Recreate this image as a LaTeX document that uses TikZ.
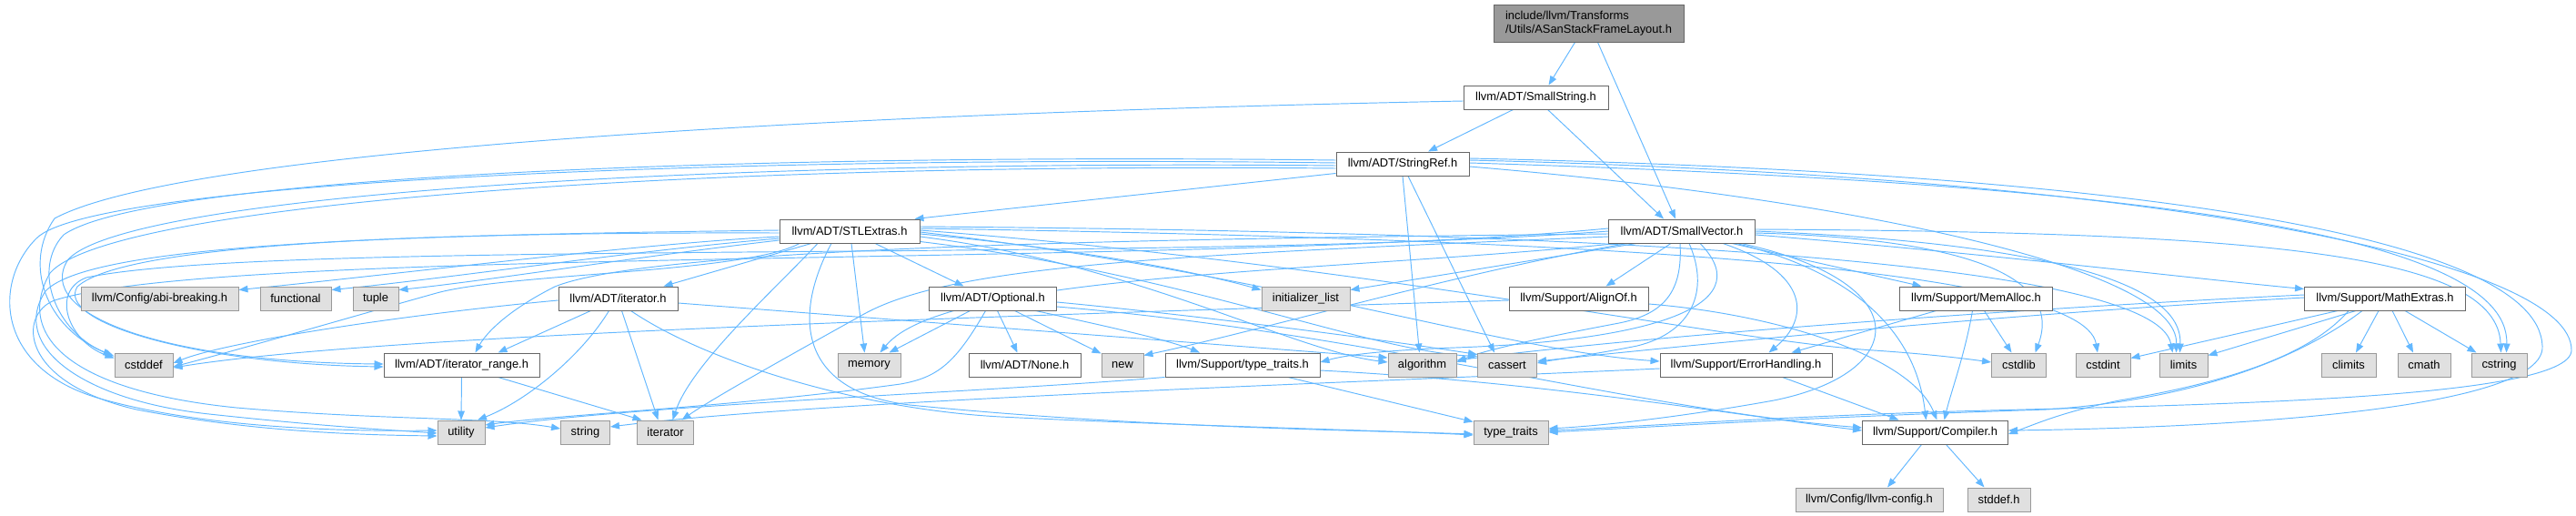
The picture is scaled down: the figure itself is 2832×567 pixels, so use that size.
\documentclass[tikz,border=0pt]{standalone}
\usepackage{fontspec}
\setmainfont{Liberation Sans}
\usetikzlibrary{arrows.meta}
\definecolor{eb}{HTML}{63B8FF}
\definecolor{nb}{HTML}{666666}
\definecolor{gb}{HTML}{999999}
\definecolor{gf}{HTML}{E0E0E0}
\pgfdeclarelayer{bgfill}
\pgfdeclarelayer{bg}
\pgfsetlayers{bgfill,bg,main}
\newcommand\nf{\fontsize{12.9pt}{14.6pt}\selectfont}
\tikzset{
  box/.style={draw=nb, fill=white, line width=0.95pt, minimum height=26pt, inner sep=0pt, font=\nf},
  ext/.style={box, draw=gb, fill=gf},
  hbox/.style={box, fill=gb, draw=nb},
  e/.style={draw=eb, line width=0.95pt, -{Triangle[length=10pt,width=7.5pt]}},
}
\begin{document}
\begin{tikzpicture}[x=1pt,y=-1pt]
\begin{pgfonlayer}{bgfill}
\fill[white] (0,0) rectangle (2832,567);
\end{pgfonlayer}
\useasboundingbox (0,0) rectangle (2832,567);
% nodes
\node[hbox, minimum width=209pt, minimum height=41pt, align=left, inner xsep=10pt] (top) at (1746.5,25.5) {include/llvm/Transforms\\/Utils/ASanStackFrameLayout.h};
\node[box, minimum width=159pt] (sstr) at (1688.5,107) {llvm/ADT/SmallString.h};
\node[box, minimum width=146pt] (sref) at (1542,180) {llvm/ADT/StringRef.h};
\node[box, minimum width=161pt] (svec) at (1849,254) {llvm/ADT/SmallVector.h};
\node[box, minimum width=154pt] (stl) at (934,254) {llvm/ADT/STLExtras.h};
\node[ext, minimum width=173pt] (abi) at (175.5,328) {llvm/Config/abi-breaking.h};
\node[ext, minimum width=78pt] (func) at (325,328) {functional};
\node[ext, minimum width=50pt] (tuple) at (413,328) {tuple};
\node[box, minimum width=131pt] (iter) at (679.5,328) {llvm/ADT/iterator.h};
\node[box, minimum width=140pt] (opt) at (1091.5,328) {llvm/ADT/Optional.h};
\node[ext, minimum width=97pt] (init) at (1435.5,328) {initializer\_list};
\node[box, minimum width=153pt] (align) at (1735.5,328) {llvm/Support/AlignOf.h};
\node[box, minimum width=168pt] (memalloc) at (2172.5,328) {llvm/Support/MemAlloc.h};
\node[box, minimum width=177pt] (math) at (2622,328) {llvm/Support/MathExtras.h};
\node[ext, minimum width=64pt] (cstddef) at (158,401) {cstddef};
\node[box, minimum width=171pt] (irange) at (507.5,401) {llvm/ADT/iterator\_range.h};
\node[ext, minimum width=69pt] (memory) at (955.5,401) {memory};
\node[box, minimum width=123pt] (none) at (1126.5,401) {llvm/ADT/None.h};
\node[ext, minimum width=46pt] (new) at (1234,401) {new};
\node[box, minimum width=170pt] (ltt) at (1366,401) {llvm/Support/type\_traits.h};
\node[ext, minimum width=75pt] (algo) at (1563.5,401) {algorithm};
\node[ext, minimum width=65pt] (cassert) at (1657,401) {cassert};
\node[box, minimum width=189pt] (err) at (1919.5,401) {llvm/Support/ErrorHandling.h};
\node[ext, minimum width=60pt] (cstdlib) at (2219.5,401) {cstdlib};
\node[ext, minimum width=60pt] (cstdint) at (2312,401) {cstdint};
\node[ext, minimum width=53pt] (limits) at (2400.5,401) {limits};
\node[ext, minimum width=60pt] (climits) at (2582,401) {climits};
\node[ext, minimum width=58pt] (cmath) at (2665,401) {cmath};
\node[ext, minimum width=61pt] (cstring) at (2747.5,401) {cstring};
\node[ext, minimum width=52pt] (utility) at (507,475) {utility};
\node[ext, minimum width=54pt] (string) at (643.5,475) {string};
\node[ext, minimum width=62pt] (iterator) at (731.5,475) {iterator};
\node[ext, minimum width=82pt] (tt) at (1661,475) {type\_traits};
\node[box, minimum width=160pt] (comp) at (2127.5,475) {llvm/Support/Compiler.h};
\node[ext, minimum width=162pt] (cfg) at (2055,549) {llvm/Config/llvm-config.h};
\node[ext, minimum width=69pt] (stddef) at (2197.5,549) {stddef.h};
% edges
\begin{pgfonlayer}{bg}
% ASan
\draw[e] ([xshift=-15pt]top.south) -- ([xshift=14pt]sstr.north);
\draw[e] ([xshift=10pt]top.south) -- ([xshift=-7pt]svec.north);
% SmallString
\draw[e] ([xshift=-25pt]sstr.south) -- ([xshift=28pt]sref.north);
\draw[e] ([xshift=13pt]sstr.south) -- ([xshift=-20pt]svec.north);
\draw[e] ([yshift=-4pt]sstr.west) .. controls (900,125) and (200,165) .. (60,240) .. controls (25,290) and (50,360) .. ([xshift=-2pt,yshift=-3pt]cstddef.north west);
% StringRef
\draw[e] ([yshift=3pt]sref.south west) -- ([xshift=-6pt]stl.north east);
\draw[e] (sref.south) -- ([xshift=-3pt]algo.north);
\draw[e] ([xshift=6pt]sref.south) -- ([xshift=-14pt]cassert.north);
\draw[e] ([yshift=4pt]sref.west) .. controls (800,168) and (160,195) .. (70,258) .. controls (35,295) and (60,365) .. ([yshift=-4pt]cstddef.north west);
\draw[e] ([yshift=1pt]sref.west) .. controls (800,170) and (100,200) .. (40,262) .. controls (-8,310) and (-5,405) .. (110,438) .. controls (230,472) and (390,474) .. ([yshift=2pt]utility.west);
\draw[e] ([yshift=-2pt]sref.west) .. controls (760,175) and (140,215) .. (75,285) .. controls (35,345) and (180,398) .. ([yshift=1pt]irange.west);
\draw[e] ([yshift=-5pt]sref.west) .. controls (740,178) and (120,225) .. (55,300) .. controls (15,370) and (80,430) .. (260,448) .. controls (420,462) and (540,458) .. ([yshift=4pt]string.west);
\draw[e] ([yshift=6pt]sref.east) .. controls (2350,190) and (2790,260) .. (2795,380) .. controls (2800,450) and (2450,470) .. ([yshift=2pt]comp.east);
\draw[e] ([yshift=4pt]sref.east) .. controls (2400,195) and (2828,290) .. (2827,385) .. controls (2826,440) and (2400,445) .. (2150,452) .. controls (1950,458) and (1780,470) .. ([yshift=2pt]tt.east);
\draw[e] ([yshift=1pt]sref.east) .. controls (2300,200) and (2760,250) .. ([xshift=8pt]cstring.north);
\draw[e] ([yshift=-3pt]sref.east) .. controls (2000,215) and (2395,290) .. ([xshift=-8pt]limits.north);
% STLExtras
\draw[e] ([yshift=-2pt]stl.west) .. controls (500,255) and (140,265) .. (85,315) .. controls (60,355) and (220,400) .. ([yshift=-2pt]irange.west);
\draw[e] ([yshift=1pt]stl.west) .. controls (480,258) and (100,265) .. (50,320) .. controls (10,380) and (90,440) .. (230,455) .. controls (350,468) and (420,472) .. ([yshift=-1pt]utility.west);
\draw[e] ([yshift=-6pt]stl.west) .. controls (700,268) and (450,300) .. ([yshift=-4pt]abi.north east);
\draw[e] ([yshift=-8pt]stl.west) .. controls (700,275) and (500,305) .. ([yshift=-4pt]func.north east);
\draw[e] ([yshift=-10pt]stl.west) .. controls (700,282) and (540,308) .. ([yshift=-4pt]tuple.north east);
\draw[e] ([xshift=-55pt]stl.south) .. controls (820,300) and (560,300) .. (480,322) .. controls (380,350) and (260,385) .. ([yshift=-2pt]cstddef.east);
\draw[e] ([xshift=-42pt]stl.south) -- ([xshift=50pt]iter.north);
\draw[e] ([xshift=-35pt]stl.south) .. controls (850,320) and (760,400) .. ([xshift=8pt]iterator.north);
\draw[e] ([xshift=-20pt]stl.south) .. controls (870,350) and (880,430) .. (1000,445) .. controls (1250,470) and (1500,473) .. ([yshift=-2pt]tt.west);
\draw[e] ([xshift=2pt]stl.south) -- ([xshift=-5pt]memory.north);
\draw[e] ([xshift=28pt]stl.south) -- ([xshift=-32pt]opt.north);
\draw[e] ([yshift=-3pt]stl.east) .. controls (1200,275) and (1320,300) .. ([yshift=-4pt]init.north west);
\draw[e] ([yshift=-6pt]stl.east) .. controls (1250,290) and (1420,385) .. ([yshift=3pt]algo.west);
\draw[e] ([yshift=2pt]stl.south east) .. controls (1300,300) and (1500,385) .. ([yshift=-4pt]cassert.north west);
\draw[e] ([yshift=-1pt]stl.east) .. controls (1400,300) and (1650,385) .. ([yshift=4pt]err.west);
\draw[e] ([yshift=1pt]stl.east) .. controls (1500,290) and (1900,375) .. (2060,385) .. controls (2120,389) and (2160,394) .. ([yshift=3pt]cstdlib.west);
\draw[e] ([yshift=3pt]stl.east) .. controls (1700,262) and (2290,290) .. ([xshift=-6pt]cstdint.north);
\draw[e] ([yshift=5pt]stl.east) .. controls (1800,255) and (2370,290) .. ([xshift=-12pt]limits.north);
% SmallVector
\draw[e] ([xshift=-12pt]svec.south) -- ([xshift=30pt]align.north);
\draw[e] ([xshift=55pt]svec.south) -- ([xshift=-60pt]memalloc.north);
\draw[e] ([yshift=-4pt]svec.east) .. controls (2200,280) and (2400,305) .. ([yshift=-3pt]math.north west);
\draw[e] ([xshift=45pt]svec.south) .. controls (1990,300) and (1990,350) .. ([xshift=25pt]err.north);
\draw[e] ([xshift=60pt]svec.south) .. controls (2080,310) and (2110,400) .. ([xshift=-10pt]comp.north);
\draw[e] ([xshift=65pt]svec.south) .. controls (2110,310) and (2100,410) .. (1950,440) .. controls (1850,458) and (1760,468) .. ([yshift=4pt]tt.east);
\draw[e] ([xshift=-2pt]svec.south) .. controls (1850,320) and (1830,345) .. (1780,355) .. controls (1700,370) and (1630,385) .. ([yshift=3pt]algo.east);
\draw[e] ([xshift=8pt]svec.south) .. controls (1880,320) and (1860,365) .. (1800,380) .. controls (1750,390) and (1710,395) .. ([yshift=2pt]cassert.east);
\draw[e] ([xshift=20pt]svec.south) .. controls (1940,340) and (1800,375) .. (1600,382) .. controls (1520,385) and (1480,390) .. ([yshift=3pt]ltt.east);
\draw[e] ([xshift=-60pt]svec.south) .. controls (1600,300) and (1400,360) .. ([yshift=-3pt]new.north east);
\draw[e] ([xshift=-50pt]svec.south) -- ([yshift=-4pt]init.north east);
\draw[e] ([xshift=-70pt]svec.south) .. controls (1450,300) and (1040,300) .. ([xshift=12pt]memory.north);
\draw[e] ([yshift=-6pt]svec.west) .. controls (1300,280) and (1050,290) .. (950,345) .. controls (860,395) and (780,440) .. ([xshift=18pt]iterator.north);
\draw[e] ([yshift=-3pt]svec.west) .. controls (1300,262) and (720,270) .. (610,315) .. controls (560,340) and (535,365) .. ([xshift=15pt]irange.north);
\draw[e] (svec.west) .. controls (1300,290) and (300,262) .. (95,305) .. controls (55,320) and (75,375) .. ([yshift=-6pt]cstddef.north west);
\draw[e] ([yshift=3pt]svec.west) .. controls (1300,295) and (250,270) .. (60,330) .. controls (20,345) and (20,420) .. (150,450) .. controls (280,475) and (400,478) .. ([yshift=-4pt]utility.west);
\draw[e] ([yshift=-2pt]svec.east) .. controls (2150,262) and (2270,300) .. ([xshift=18pt]cstdlib.north);
\draw[e] (svec.east) .. controls (2200,265) and (2400,300) .. ([xshift=-4pt]limits.north);
\draw[e] ([yshift=2pt]svec.east) .. controls (2500,255) and (2745,280) .. ([xshift=2pt]cstring.north);
% Optional
\draw[e] ([xshift=5pt]opt.south) -- ([xshift=-8pt]none.north);
\draw[e] ([xshift=24pt]opt.south) -- ([yshift=-1pt]new.north west);
\draw[e] ([xshift=47pt]opt.south) .. controls (1200,355) and (1280,372) .. ([xshift=-47pt]ltt.north);
\draw[e] ([xshift=-25pt]opt.south) -- ([xshift=22pt]memory.north);
\draw[e] ([xshift=-8pt]opt.south) .. controls (1050,400) and (1030,415) .. (990,422) .. controls (800,448) and (620,455) .. ([yshift=8pt]utility.east);
\draw[e] ([yshift=-4pt]opt.east) .. controls (1300,345) and (1500,370) .. ([yshift=-2pt]cassert.north west);
\draw[e] ([yshift=-9pt]opt.east) .. controls (1500,365) and (1800,450) .. ([yshift=5pt]comp.west);
% llvm type_traits
\draw[e] ([xshift=50pt]ltt.south) -- ([yshift=-2pt]tt.north west);
\draw[e] ([yshift=-6pt]ltt.east) .. controls (1700,420) and (1900,455) .. ([yshift=2pt]comp.west);
\draw[e] (ltt.south west) .. controls (1100,430) and (700,445) .. ([yshift=5pt]utility.east);
% iterator.h
\draw[e] ([xshift=-30pt]iter.south) -- ([xshift=40pt]irange.north);
\draw[e] ([yshift=-2pt]iter.west) .. controls (450,345) and (250,375) .. ([yshift=2pt]cstddef.east);
\draw[e] ([xshift=-10pt]iter.south) .. controls (640,390) and (580,440) .. ([xshift=18pt]utility.north);
\draw[e] ([xshift=4pt]iter.south) -- ([xshift=-8pt]iterator.north);
\draw[e] ([xshift=14pt]iter.south) .. controls (780,400) and (950,450) .. (1100,458) .. controls (1300,468) and (1500,472) .. ([yshift=-3pt]tt.west);
\draw[e] ([yshift=-5pt]iter.east) -- ([yshift=8pt]algo.west);
% iterator_range
\draw[e] (irange.south) -- (utility.north);
\draw[e] ([xshift=40pt]irange.south) -- ([xshift=-26pt]iterator.north);
% AlignOf
\draw[e] ([yshift=-2pt]align.west) .. controls (1000,350) and (400,370) .. ([yshift=-3pt]cstddef.east);
\draw[e] ([yshift=-6pt]align.east) .. controls (1950,345) and (2100,390) .. ([xshift=2pt]comp.north);
% MemAlloc
\draw[e] ([xshift=9pt]memalloc.south) -- ([xshift=-8pt]cstdlib.north);
\draw[e] ([xshift=-4pt]memalloc.south) .. controls (2160,390) and (2145,430) .. ([xshift=10pt]comp.north);
\draw[e] ([xshift=-44pt]memalloc.south) -- ([xshift=50pt]err.north);
% MathExtras
\draw[e] ([xshift=-7pt]math.south) -- ([xshift=8pt]climits.north);
\draw[e] ([xshift=8pt]math.south) -- ([xshift=-12pt]cmath.north);
\draw[e] ([xshift=22pt]math.south) -- ([xshift=-25pt]cstring.north);
\draw[e] ([xshift=-32pt]math.south) -- ([yshift=-3pt]limits.north east);
\draw[e] ([xshift=-52pt]math.south) -- ([yshift=-6pt]cstdint.north east);
\draw[e] ([yshift=4pt]math.west) .. controls (2200,340) and (1800,370) .. ([yshift=5pt]algo.east);
\draw[e] ([yshift=1pt]math.west) .. controls (2200,345) and (1850,380) .. ([yshift=4pt]cassert.east);
\draw[e] ([xshift=-40pt]math.south) .. controls (2540,390) and (2450,420) .. (2330,440) .. controls (2270,452) and (2240,465) .. ([yshift=-2pt]comp.east);
\draw[e] ([xshift=-25pt]math.south) .. controls (2520,400) and (2400,440) .. (2250,450) .. controls (2000,458) and (1800,470) .. (tt.east);
% ErrorHandling
\draw[e] ([xshift=40pt]err.south) -- ([xshift=-40pt]comp.north);
\draw[e] ([yshift=-4pt]err.west) .. controls (1500,420) and (900,440) .. ([yshift=6pt]string.east);
% Compiler
\draw[e] ([xshift=-15pt]comp.south) -- ([xshift=20pt]cfg.north);
\draw[e] ([xshift=12pt]comp.south) -- ([xshift=-16pt]stddef.north);
\end{pgfonlayer}
\end{tikzpicture}
\end{document}
